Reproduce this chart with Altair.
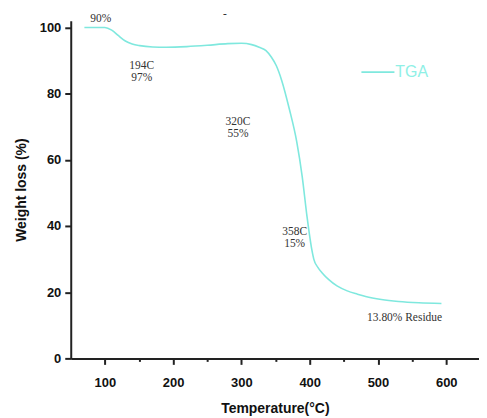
import altair as alt
import pandas as pd

# TGA curve
temp = [70, 85, 100, 110, 120, 130, 140, 151, 170, 190, 220, 250, 280, 300, 315, 326, 336, 344, 351, 359, 370,
        381, 389, 396, 403, 406, 412, 418, 428, 440, 455, 470, 482, 505, 530, 560, 593]
weight = [100, 100, 100, 99.2, 97.5, 95.9, 95.0, 94.5, 94.1, 94.0, 94.2, 94.6, 95.1, 95.2, 94.8, 94.0, 93.0, 91.0, 88.5, 84.0, 75.5,
          65.5, 55.0, 43.0, 33.0, 30.0, 27.5, 25.9, 23.8, 21.9, 20.4, 19.4, 18.7, 17.8, 17.2, 16.8, 16.6]
series = ["TGA"] * len(temp)

# annotations
ann_text = ["90%", "194C\n97%", "320C\n55%", "358C\n15%", "13.80% Residue", "-"]
ann_x = [94, 154, 295, 378, 539, 276]
ann_y = [102.4, 88.4, 71.3, 38.1, 12.3, 103.9]

x_ticks = [100, 150, 200, 250, 300, 350, 400, 450, 500, 550, 600, 650]
y_ticks = [0, 10, 20, 30, 40, 50, 60, 70, 80, 90, 100]

df = pd.DataFrame({"Temperature": temp, "Weight": weight, "Series": series})
ann = pd.DataFrame({"text": ann_text, "x": ann_x, "y": ann_y})

axis_common = dict(
    grid=False, domainColor="#222222", domainWidth=2, tickColor="#222222", tickWidth=2,
    labelFont="Liberation Sans", labelFontWeight="bold", labelFontSize=13, labelColor="#111111",
    titleFont="Liberation Sans", titleFontWeight="bold", titleFontSize=14, titleColor="#111111",
)

x_axis = alt.Axis(
    values=x_ticks, title="Temperature(°C)", titlePadding=12, labelPadding=12,
    labelExpr="datum.value % 100 === 0 ? datum.label : ''",
    tickSize={"condition": {"test": "datum.value % 100 === 0", "value": 6}, "value": 3},
    **axis_common,
)
y_axis = alt.Axis(
    values=y_ticks, title="Weight loss (%)", titlePadding=11, labelPadding=4,
    labelExpr="datum.value % 20 === 0 ? datum.label : ''",
    tickSize={"condition": {"test": "datum.value % 20 === 0", "value": 6}, "value": 3},
    **axis_common,
)

x_scale = alt.Scale(domain=[50, 648], nice=False, zero=False)
y_scale = alt.Scale(domain=[0, 102], nice=False)

line = alt.Chart(df).mark_line(strokeWidth=1.6, interpolate="monotone", clip=False).encode(
    x=alt.X("Temperature:Q", scale=x_scale, axis=x_axis),
    y=alt.Y("Weight:Q", scale=y_scale, axis=y_axis),
    color=alt.Color(
        "Series:N",
        scale=alt.Scale(domain=["TGA"], range=["#7fe8de"]),
        legend=alt.Legend(
            title=None, orient="none", legendX=291, legendY=34,
            symbolType="stroke", symbolStrokeWidth=1.6, symbolSize=1100,
            labelColor="#8ff0e6", labelFont="Liberation Sans", labelFontSize=16, labelOffset=0,
        ),
    ),
)

text = alt.Chart(ann).mark_text(
    font="Liberation Serif", fontSize=11.5, color="#333333", align="center", baseline="middle",
    lineBreak="\n", lineHeight=12,
).encode(x="x:Q", y="y:Q", text="text:N")

chart = alt.layer(line, text).properties(
    width=410, height=339,
    autosize=alt.AutoSizeParams(type="none"),
    padding={"left": 63, "top": 12, "right": 0, "bottom": 59},
).configure_view(stroke=None)

chart.save("out.html", embed_options={"renderer": "svg", "actions": False})
